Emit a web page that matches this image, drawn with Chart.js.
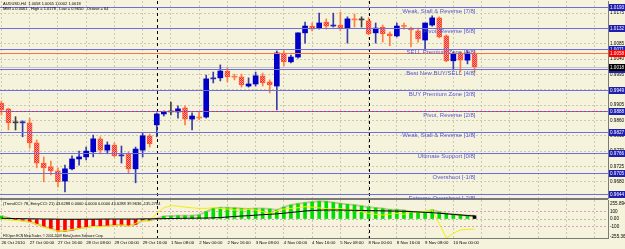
<!DOCTYPE html>
<html><head><meta charset="utf-8">
<script src="https://cdn.jsdelivr.net/npm/chart.js@4.4.1/dist/chart.umd.min.js"></script>
<style>
html,body{margin:0;padding:0;background:#f5f3dc;overflow:hidden;}
#wrap{position:relative;width:625px;height:249px;background:#f5f3dc;}
#c1{position:absolute;left:0;top:0;}
#c2{position:absolute;left:0;top:199px;}
</style></head><body>
<div id="wrap"><canvas id="c1" width="625" height="199"></canvas><canvas id="c2" width="625" height="50"></canvas></div>
<script>
// ---------------- DATA ----------------
const symbol = 'AUDUSD,H4';
const barTimes = [
 '26 Oct 08:00','26 Oct 12:00','26 Oct 16:00','26 Oct 20:00',
 '27 Oct 00:00','27 Oct 04:00','27 Oct 08:00','27 Oct 12:00','27 Oct 16:00','27 Oct 20:00',
 '28 Oct 00:00','28 Oct 04:00','28 Oct 08:00','28 Oct 12:00','28 Oct 16:00','28 Oct 20:00',
 '29 Oct 00:00','29 Oct 04:00','29 Oct 08:00','29 Oct 12:00','29 Oct 16:00','29 Oct 20:00',
 '1 Nov 00:00','1 Nov 04:00','1 Nov 08:00','1 Nov 12:00','1 Nov 16:00','1 Nov 20:00',
 '2 Nov 00:00','2 Nov 04:00','2 Nov 08:00','2 Nov 12:00','2 Nov 16:00','2 Nov 20:00',
 '3 Nov 00:00','3 Nov 04:00','3 Nov 08:00','3 Nov 12:00','3 Nov 16:00','3 Nov 20:00',
 '4 Nov 00:00','4 Nov 04:00','4 Nov 08:00','4 Nov 12:00','4 Nov 16:00','4 Nov 20:00',
 '5 Nov 00:00','5 Nov 04:00','5 Nov 08:00','5 Nov 12:00','5 Nov 16:00','5 Nov 20:00',
 '8 Nov 00:00','8 Nov 04:00','8 Nov 08:00','8 Nov 12:00','8 Nov 16:00','8 Nov 20:00',
 '9 Nov 00:00','9 Nov 04:00','9 Nov 08:00','9 Nov 12:00','9 Nov 16:00','9 Nov 20:00',
 '10 Nov 00:00','10 Nov 04:00','10 Nov 08:00','10 Nov 12:00'];
const timeLabels = ['26 Oct 2010','27 Oct 00:00','27 Oct 16:00','28 Oct 08:00','29 Oct 00:00','29 Oct 16:00',
 '1 Nov 08:00','2 Nov 00:00','2 Nov 16:00','3 Nov 08:00','4 Nov 00:00','4 Nov 16:00','5 Nov 08:00',
 '8 Nov 00:00','8 Nov 16:00','9 Nov 08:00','10 Nov 00:00'];
const labelEvery = 4;
const weekStarts = [22, 52];

const opens = [
 0.9911,0.9894,0.9853,0.9853,0.9853,0.9794,0.9735,0.9724,0.9712,0.9682,
 0.9718,0.9747,0.9753,0.9768,0.9806,0.9773,0.9788,0.9756,0.9762,0.9718,
 0.9773,0.9815,0.9847,0.9879,0.9885,0.9885,0.9897,0.9864,0.9870,0.9870,
 0.9982,0.9985,1.0005,0.9988,0.9988,0.9961,0.9967,0.9991,0.9973,0.9961,
 1.0058,1.0032,1.0046,1.0117,1.0137,1.0131,1.0149,1.0137,1.0140,1.0131,
 1.0156,1.0155,1.0152,1.0117,1.0134,1.0114,1.0108,1.0137,1.0131,1.0123,
 1.0096,1.0140,1.0161,1.0108,1.0035,1.0058,1.0037,1.0058];
const highs = [
 0.9917,0.9896,0.9871,0.9859,0.9867,0.9803,0.9753,0.9741,0.9721,0.9729,
 0.9756,0.9770,0.9782,0.9817,0.9812,0.9797,0.9794,0.9785,0.9768,0.9782,
 0.9823,0.9820,0.9882,0.9888,0.9914,0.9903,0.9903,0.9882,0.9885,0.9993,
 1.0002,1.0023,1.0014,0.9996,0.9996,0.9985,1.0002,0.9999,0.9979,1.0064,
 1.0064,1.0052,1.0117,1.0149,1.0146,1.0175,1.0158,1.0175,1.0178,1.0164,
 1.0172,1.0164,1.0161,1.0146,1.0140,1.0120,1.0146,1.0146,1.0134,1.0131,
 1.0146,1.0167,1.0164,1.0111,1.0061,1.0061,1.0064,1.0065];
const lows = [
 0.9876,0.9832,0.9832,0.9812,0.9779,0.9721,0.9680,0.9700,0.9665,0.9650,
 0.9715,0.9729,0.9744,0.9753,0.9762,0.9762,0.9753,0.9735,0.9706,0.9677,
 0.9753,0.9782,0.9812,0.9873,0.9876,0.9867,0.9847,0.9832,0.9862,0.9867,
 0.9970,0.9976,0.9973,0.9979,0.9958,0.9958,0.9961,0.9961,0.9941,0.9891,
 1.0020,1.0029,1.0043,1.0087,1.0123,1.0128,1.0128,1.0134,1.0123,1.0087,
 1.0134,1.0134,1.0111,1.0087,1.0090,1.0079,1.0105,1.0128,1.0076,1.0090,
 1.0067,1.0137,1.0102,1.0032,1.0008,1.0002,1.0026,1.0002];
const closes = [
 0.9891,0.9853,0.9853,0.9856,0.9794,0.9735,0.9721,0.9712,0.9680,0.9718,
 0.9747,0.9753,0.9770,0.9806,0.9773,0.9788,0.9756,0.9759,0.9718,0.9776,
 0.9815,0.9791,0.9879,0.9885,0.9885,0.9894,0.9864,0.9873,0.9867,0.9982,
 0.9985,1.0005,0.9988,0.9987,0.9964,0.9967,0.9991,0.9970,0.9964,1.0058,
 1.0032,1.0046,1.0117,1.0137,1.0128,1.0146,1.0137,1.0140,1.0131,1.0158,
 1.0155,1.0155,1.0114,1.0131,1.0114,1.0108,1.0137,1.0136,1.0126,1.0099,
 1.0146,1.0161,1.0105,1.0035,1.0055,1.0037,1.0058,1.0018];

const mmLevels = [0.964355,0.970459,0.976563,0.982666,0.988770,0.994873,1.000977,1.007080,1.013184,1.019287];
const mmNames = ['Extreme Overshoot [-2/8]','Overshoot [-1/8]','Ultimate Support [0/8]','Weak, Stall & Reverse [1/8]',
 'Pivot, Reverse [2/8]','BUY Premium Zone [3/8]','Best New BUY/SELL [4/8]','SELL Premium Zone [5/8]',
 'Pivot, Reverse [6/8]','Weak, Stall & Reverse [7/8]'];
const mmInterval = 0.0061;
const mmOctave = 64;
const orangeLevel = 1.0058;
const priceTicks = [0.9680,0.9725,0.9770,0.9815,0.9860,0.9905,0.9950,0.9995,1.0040,1.0085,1.0130,1.0175];

// indicator (TrendCCI 78 / EntryCCI 21)
const cciHist = [
 40,15,-8,-20,-36,-67,-103,-126,-161,-161,
 -148,-126,-112,-94,-94,-90,-81,-81,-90,-72,
 -20,-15,8,36,40,45,45,45,54,99,
 143,152,152,148,140,135,140,140,135,121,
 160,188,205,218,230,240,236,222,208,197,
 188,175,160,150,140,126,126,117,99,95,
 99,121,95,76,63,54,48,43.6288];
const histState = 'uuddddddddddddddddddnnnuuuuuuuuuuuuuuuuuuuuuuuuuuuuuuuuuuuuuuuuuuuu';
const entryCCI = [
 -5,-13,-20,-25,-40,-70,-105,-140,-161,-155,
 -140,-126,-115,-100,-105,-95,-90,-80,-95,-58,
 -20,-30,80,150,179,175,160,150,143,143,
 152,143,135,121,121,130,121,99,76,108,
 135,143,152,166,160,150,140,135,143,121,
 121,99,76,63,54,63,76,63,99,90,
 99,121,-60,-255.364,-193,-148,-140,-135.2784];
const signalLine = [
 10,8,6,5,3,2,0,0,-2,-3,
 -3,-3,-2,-2,-1,0,0,0,0,0,
 2,3,3,5,7,9,10,11,12,13,
 16,20,27,34,40,45,52,58,64,70,
 78,88,98,108,115,119,121,121,121,119,
 117,115,113,112,110,108,106,104,100,95,
 90,85,78,70,62,55,47,39.9636];
const indMax = 255.894, indMin = -255.364;
const indTicks = [-100, 0, 100];

// ---------------- HELPERS ----------------
const N = opens.length;
const idx = opens.map((_, i) => i);
const FONT = '"Liberation Sans", Arial, sans-serif';
const gridBars = [];
for (let b = 0; b <= 84; b += labelEvery) gridBars.push(b);

function mkPattern(){
  const c = document.createElement('canvas'); c.width = 2; c.height = 2;
  const g = c.getContext('2d');
  g.fillStyle = '#ffa0a0'; g.fillRect(0,0,2,2);
  g.fillStyle = '#ff2020'; g.fillRect(0,0,1,1); g.fillRect(1,1,1,1);
  return g.createPattern(c, 'repeat');
}
const redPat = mkPattern();
const kind = idx.map(i => {
  const d = closes[i] - opens[i];
  if (Math.abs(d) < 0.00005) return 'flat';
  if (Math.abs(d) < 0.0004) return d > 0 ? 'upx' : 'dnx';
  return d > 0 ? 'up' : 'dn';
});
const bodyBg = kind.map(k => ({up:'#0000c8', upx:'#2a2ab4', dn:redPat, dnx:'#ff7a3a', flat:'#404040'})[k]);
const bodyBorder = kind.map(k => ({up:'#0000c8', upx:'#2a2ab4', dn:'#ff5a28', dnx:'#ff7a3a', flat:'#404040'})[k]);
const bodyBW = kind.map(k => k === 'dn' ? 1 : 0);
const wickCol = kind.map(k => ({up:'#3c3ca8', upx:'#3c3ca8', dn:'#ff7f40', dnx:'#ff7f40', flat:'#404040'})[k]);
const fmt4 = v => v.toFixed(4);

const xScaleBase = {
  type:'linear', offset:false, min:-0.2, max:85.9,
  afterBuildTicks: s => { s.ticks = gridBars.map(v => ({value:v})); },
  grid:{offset:false, color:'#cbc9b4', drawTicks:false, lineWidth:1},
};

// ---------------- MAIN CHART ----------------
const mainPlugin = {
  id:'mainDeco',
  beforeDatasetsDraw(chart){
    const {ctx, chartArea:a, scales:{x, y}} = chart;
    ctx.save();
    ctx.beginPath(); ctx.rect(a.left, a.top, a.right - a.left, a.bottom - a.top); ctx.clip();
    // bid line
    ctx.strokeStyle = '#c4c4c4'; ctx.lineWidth = 1;
    let py = Math.round(y.getPixelForValue(closes[N-1])) + 0.5;
    ctx.beginPath(); ctx.moveTo(a.left, py); ctx.lineTo(a.right, py); ctx.stroke();
    // week separators
    ctx.strokeStyle = '#000'; ctx.setLineDash([3,3]);
    weekStarts.forEach(b => {
      const px = Math.round(x.getPixelForValue(b)) + 0.5;
      ctx.beginPath(); ctx.moveTo(px, a.top); ctx.lineTo(px, a.bottom); ctx.stroke();
    });
    ctx.restore();
  },
  afterDatasetsDraw(chart){
    const {ctx, chartArea:a, scales:{x, y}} = chart;
    ctx.save();
    ctx.beginPath(); ctx.rect(a.left, a.top, a.right - a.left, a.bottom - a.top + 3); ctx.clip();
    ctx.lineWidth = 1;
    mmLevels.forEach((lv, k) => {
      const py = Math.round(y.getPixelForValue(lv)) + 0.5;
      ctx.strokeStyle = '#6e6ede'; ctx.setLineDash([]);
      ctx.beginPath(); ctx.moveTo(a.left, py); ctx.lineTo(a.right, py); ctx.stroke();
      if (k === 4) {
        ctx.strokeStyle = '#d03060'; ctx.setLineDash([2,2]);
        ctx.beginPath(); ctx.moveTo(a.left, py); ctx.lineTo(a.right, py); ctx.stroke();
      }
    });
    ctx.setLineDash([]);
    ctx.strokeStyle = '#ff7040';
    let py = Math.round(y.getPixelForValue(orangeLevel)) + 0.5;
    ctx.beginPath(); ctx.moveTo(a.left, py); ctx.lineTo(a.right, py); ctx.stroke();
    // level names
    ctx.font = '6px ' + FONT; ctx.fillStyle = '#5656cf';
    ctx.textAlign = 'right'; ctx.textBaseline = 'top';
    const tx = x.getPixelForValue(N - 1) + 1;
    mmLevels.forEach((lv, k) => {
      ctx.fillText(mmNames[k], tx, y.getPixelForValue(lv) + 1);
    });
    ctx.restore();
  },
  afterDraw(chart){
    const {ctx, chartArea:a, scales:{y}} = chart;
    ctx.save();
    const box = (v, bg) => {
      const py = Math.round(y.getPixelForValue(v));
      ctx.fillStyle = bg; ctx.fillRect(a.right + 1, py - 3, 625 - a.right - 1, 7);
      ctx.fillStyle = '#fff'; ctx.font = '4.6px ' + FONT;
      ctx.textAlign = 'left'; ctx.textBaseline = 'middle';
      ctx.fillText(fmt4(v), a.right + 2, py + 0.5);
    };
    mmLevels.forEach(lv => box(lv, '#1e1eb0'));
    box(orangeLevel, '#ff0000');
    box(closes[N-1], '#000000');
    // title
    ctx.fillStyle = '#000'; ctx.font = '4px ' + FONT;
    ctx.textAlign = 'left'; ctx.textBaseline = 'middle';
    ctx.fillText(symbol + '  ' + [opens[N-1], highs[N-1], lows[N-1], closes[N-1]].map(fmt4).join(' '), 3, 4);
    ctx.fillText('MMI = ' + mmInterval.toFixed(4) + '   High = ' + fmt4(Math.max(...highs)) +
      '   Low = ' + fmt4(Math.min(...lows)) + '   Octave = ' + mmOctave, 3, 9);
    ctx.restore();
  }
};

new Chart(document.getElementById('c1'), {
  type:'bar',
  data:{ datasets:[
    { label:'body', data: idx.map(i => ({x:i, y:[opens[i], closes[i]]})),
      backgroundColor: bodyBg, borderColor: bodyBorder, borderWidth: bodyBW, borderSkipped:false,
      barThickness:5, minBarLength:1, grouped:false },
    { label:'wick', data: idx.map(i => ({x:i, y:[lows[i], highs[i]]})),
      backgroundColor: wickCol, borderWidth:0, barThickness:1, grouped:false }
  ]},
  options:{
    responsive:false, animation:false, devicePixelRatio:1,
    layout:{padding:{top:1, left:0, right:0, bottom:0}},
    plugins:{legend:{display:false}, tooltip:{enabled:false}},
    scales:{
      x: Object.assign({}, xScaleBase, {
        afterFit: s => { s.height = 1; s.paddingLeft = 0; s.paddingRight = 0; },
        ticks:{display:false},
        border:{display:true, color:'#7a7a7a', dash:[2,2]}
      }),
      y:{
        position:'right', min:0.963243, max:1.02105,
        afterBuildTicks: s => { s.ticks = priceTicks.map(v => ({value:v})); },
        afterFit: s => { s.width = 17; s.paddingTop = 0; s.paddingBottom = 0; },
        ticks:{font:{family:FONT, size:4.6}, color:'#000', padding:2, callback: v => fmt4(v)},
        grid:{color:'#cbc9b4', drawTicks:false},
        border:{display:true, color:'#7a7a7a', dash:[2,2]}
      }
    }
  },
  plugins:[mainPlugin]
});

// ---------------- INDICATOR ----------------
const histColor = idx.map(i => ({u:'#00e000', d:'#ff0000', n:'#800000'})[histState[i]]);
const indPlugin = {
  id:'indDeco',
  beforeDatasetsDraw(chart){
    const {ctx, chartArea:a, scales:{x}} = chart;
    ctx.save();
    ctx.strokeStyle = '#000'; ctx.setLineDash([3,3]); ctx.lineWidth = 1;
    weekStarts.forEach(b => {
      const px = Math.round(x.getPixelForValue(b)) + 0.5;
      ctx.beginPath(); ctx.moveTo(px, a.top); ctx.lineTo(px, a.bottom); ctx.stroke();
    });
    ctx.restore();
  },
  afterDraw(chart){
    const {ctx, chartArea:a} = chart;
    ctx.save();
    ctx.strokeStyle = '#7a7a7a'; ctx.lineWidth = 1;
    ctx.beginPath(); ctx.moveTo(0, 0.5); ctx.lineTo(a.right, 0.5); ctx.stroke();
    ctx.fillStyle = '#000'; ctx.font = '4px ' + FONT; ctx.textAlign = 'left'; ctx.textBaseline = 'middle';
    ctx.fillText('(TrendCCI: 78, EntryCCI: 21) ' + [cciHist[N-1], 0, 0, 0, cciHist[N-1], signalLine[N-1], entryCCI[N-1]].map(v => v.toFixed(4)).join(' '), 3, 5);
    ctx.font = '3.3px ' + FONT;
    ctx.fillText('FXOpen ECN MetaTrader, \u00a9 2001-2009 MetaQuotes Software Corp.', 3, 37.5);
    ctx.font = '4.6px ' + FONT;
    ctx.fillText(indMax.toFixed(3), a.right + 2, a.top + 4);
    ctx.fillText(indMin.toFixed(3), a.right + 2, a.bottom - 1.5);
    ctx.restore();
  }
};

new Chart(document.getElementById('c2'), {
  type:'bar',
  data:{ datasets:[
    { type:'line', label:'signal', data: idx.map(i => ({x:i, y:signalLine[i]})),
      borderColor:'#000000', borderWidth:1, pointRadius:0, tension:0 },
    { type:'line', label:'entry', data: idx.map(i => ({x:i, y:entryCCI[i]})),
      borderColor:'#f0f000', borderWidth:1, pointRadius:0, tension:0 },
    { type:'bar', label:'hist', data: idx.map(i => ({x:i, y:cciHist[i]})),
      backgroundColor: histColor, borderWidth:0, barThickness:3, grouped:false },
    { type:'line', label:'trend', data: idx.map(i => ({x:i, y:cciHist[i]})),
      borderColor:'#cdc29e', borderWidth:2, pointRadius:0, tension:0 }
  ]},
  options:{
    responsive:false, animation:false, devicePixelRatio:1,
    layout:{padding:{top:1, left:0, right:0, bottom:0}},
    plugins:{legend:{display:false}, tooltip:{enabled:false}},
    scales:{
      x: Object.assign({}, xScaleBase, {
        afterFit: s => { s.height = 11; s.paddingLeft = 0; s.paddingRight = 0; },
        ticks:{display:true, align:'start', autoSkip:false, maxRotation:0, padding:2,
          font:{family:FONT, size:4.3}, color:'#000',
          callback: v => (v / labelEvery < timeLabels.length ? timeLabels[v / labelEvery] : '')},
        border:{display:true, color:'#7a7a7a', dash:[2,2]}
      }),
      y:{
        position:'right', min:indMin, max:indMax,
        afterBuildTicks: s => { s.ticks = indTicks.map(v => ({value:v})); },
        afterFit: s => { s.width = 17; s.paddingTop = 0; s.paddingBottom = 0; },
        ticks:{font:{family:FONT, size:4.6}, color:'#000', padding:2,
          callback: v => v === 0 ? '0.00' : String(v)},
        grid:{drawTicks:false, color: c => (c.tick && c.tick.value === 0) ? '#bdbba8' : '#e39ac0'},
        border:{display:true, color:'#7a7a7a', dash:[2,2]}
      }
    }
  },
  plugins:[indPlugin]
});
</script>
</body></html>
